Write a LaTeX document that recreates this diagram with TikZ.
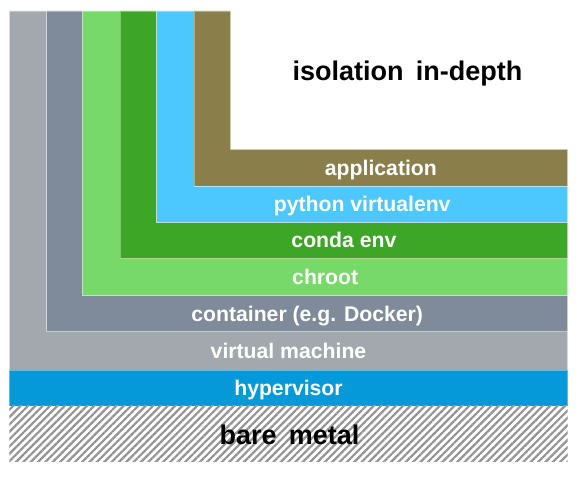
\documentclass[tikz,border=0pt]{standalone}
\usepackage{fontspec}
\setmainfont{Liberation Sans}
\usetikzlibrary{patterns.meta}

\definecolor{vmgray}{HTML}{A3A8AF}
\definecolor{containergray}{HTML}{7F8A9A}
\definecolor{chrootgreen}{HTML}{77D96A}
\definecolor{condagreen}{HTML}{3DA627}
\definecolor{pythonblue}{HTML}{4DC8FF}
\definecolor{appolive}{HTML}{8A7E4A}
\definecolor{hyperblue}{HTML}{0699DA}
\newcommand{\widewords}{\spaceskip 0.45em\relax}

\begin{document}
\begin{tikzpicture}[x=1pt,y=-1pt,
  layer/.style={draw=white,draw opacity=0.35,line width=0.6pt},
  barlabel/.style={anchor=base,text=white,font=\bfseries\fontsize{21.2}{25}\selectfont},
  biglabel/.style={anchor=base,text=black,font=\bfseries\fontsize{27}{32}\selectfont\widewords}]
  \useasboundingbox (0,0) rectangle (579,478);
  %draw virtual machine layer
  \filldraw[layer,fill=vmgray] (9.3,11) -- (9.3,370) -- (567.7,370)
    -- (567.7,331.7) -- (46.7,331.7) -- (46.7,11) -- cycle;
  %draw container layer
  \filldraw[layer,fill=containergray] (46.7,11) -- (46.7,331.7) -- (567.7,331.7)
    -- (567.7,295.7) -- (82.7,295.7) -- (82.7,11) -- cycle;
  %draw chroot layer
  \filldraw[layer,fill=chrootgreen] (82.7,11) -- (82.7,295.7) -- (567.7,295.7)
    -- (567.7,258.7) -- (120,258.7) -- (120,11) -- cycle;
  %draw conda layer
  \filldraw[layer,fill=condagreen] (120,11) -- (120,258.7) -- (567.7,258.7)
    -- (567.7,222.3) -- (156.7,222.3) -- (156.7,11) -- cycle;
  %draw python layer
  \filldraw[layer,fill=pythonblue] (156.7,11) -- (156.7,222.3) -- (567.7,222.3)
    -- (567.7,186) -- (194,186) -- (194,11) -- cycle;
  %draw application layer
  \filldraw[layer,fill=appolive] (194,11) -- (194,186) -- (567.7,186)
    -- (567.7,149.3) -- (230.7,149.3) -- (230.7,11) -- cycle;
  %draw hypervisor and bare metal
  \filldraw[layer,fill=hyperblue] (9.3,370) rectangle (567.7,406);
  \fill[pattern={Lines[angle=45,distance=5.2pt,line width=2.2pt]},pattern color=black!42]
    (9.3,406) rectangle (567.7,461.7);
  %labels
  \node[barlabel] (app) at (380.9,175.2) {application};
  \node[barlabel] (venv) at (362.2,211.7) {python virtualenv};
  \node[barlabel] (conda) at (343.9,248) {conda env};
  \node[barlabel] (chroot) at (325.2,284.7) {chroot};
  \node[barlabel] (container) at (307.2,321.2) {container (e.g. Docker)};
  \node[barlabel] (vm) at (288.5,358.4) {virtual machine};
  \node[barlabel] (hyper) at (288.5,395.5) {hypervisor};
  \node[biglabel] (metal) at (289.5,444.3) {bare metal};
  \node[biglabel] (title) at (407.5,81) {isolation in-depth};
\end{tikzpicture}
\end{document}
